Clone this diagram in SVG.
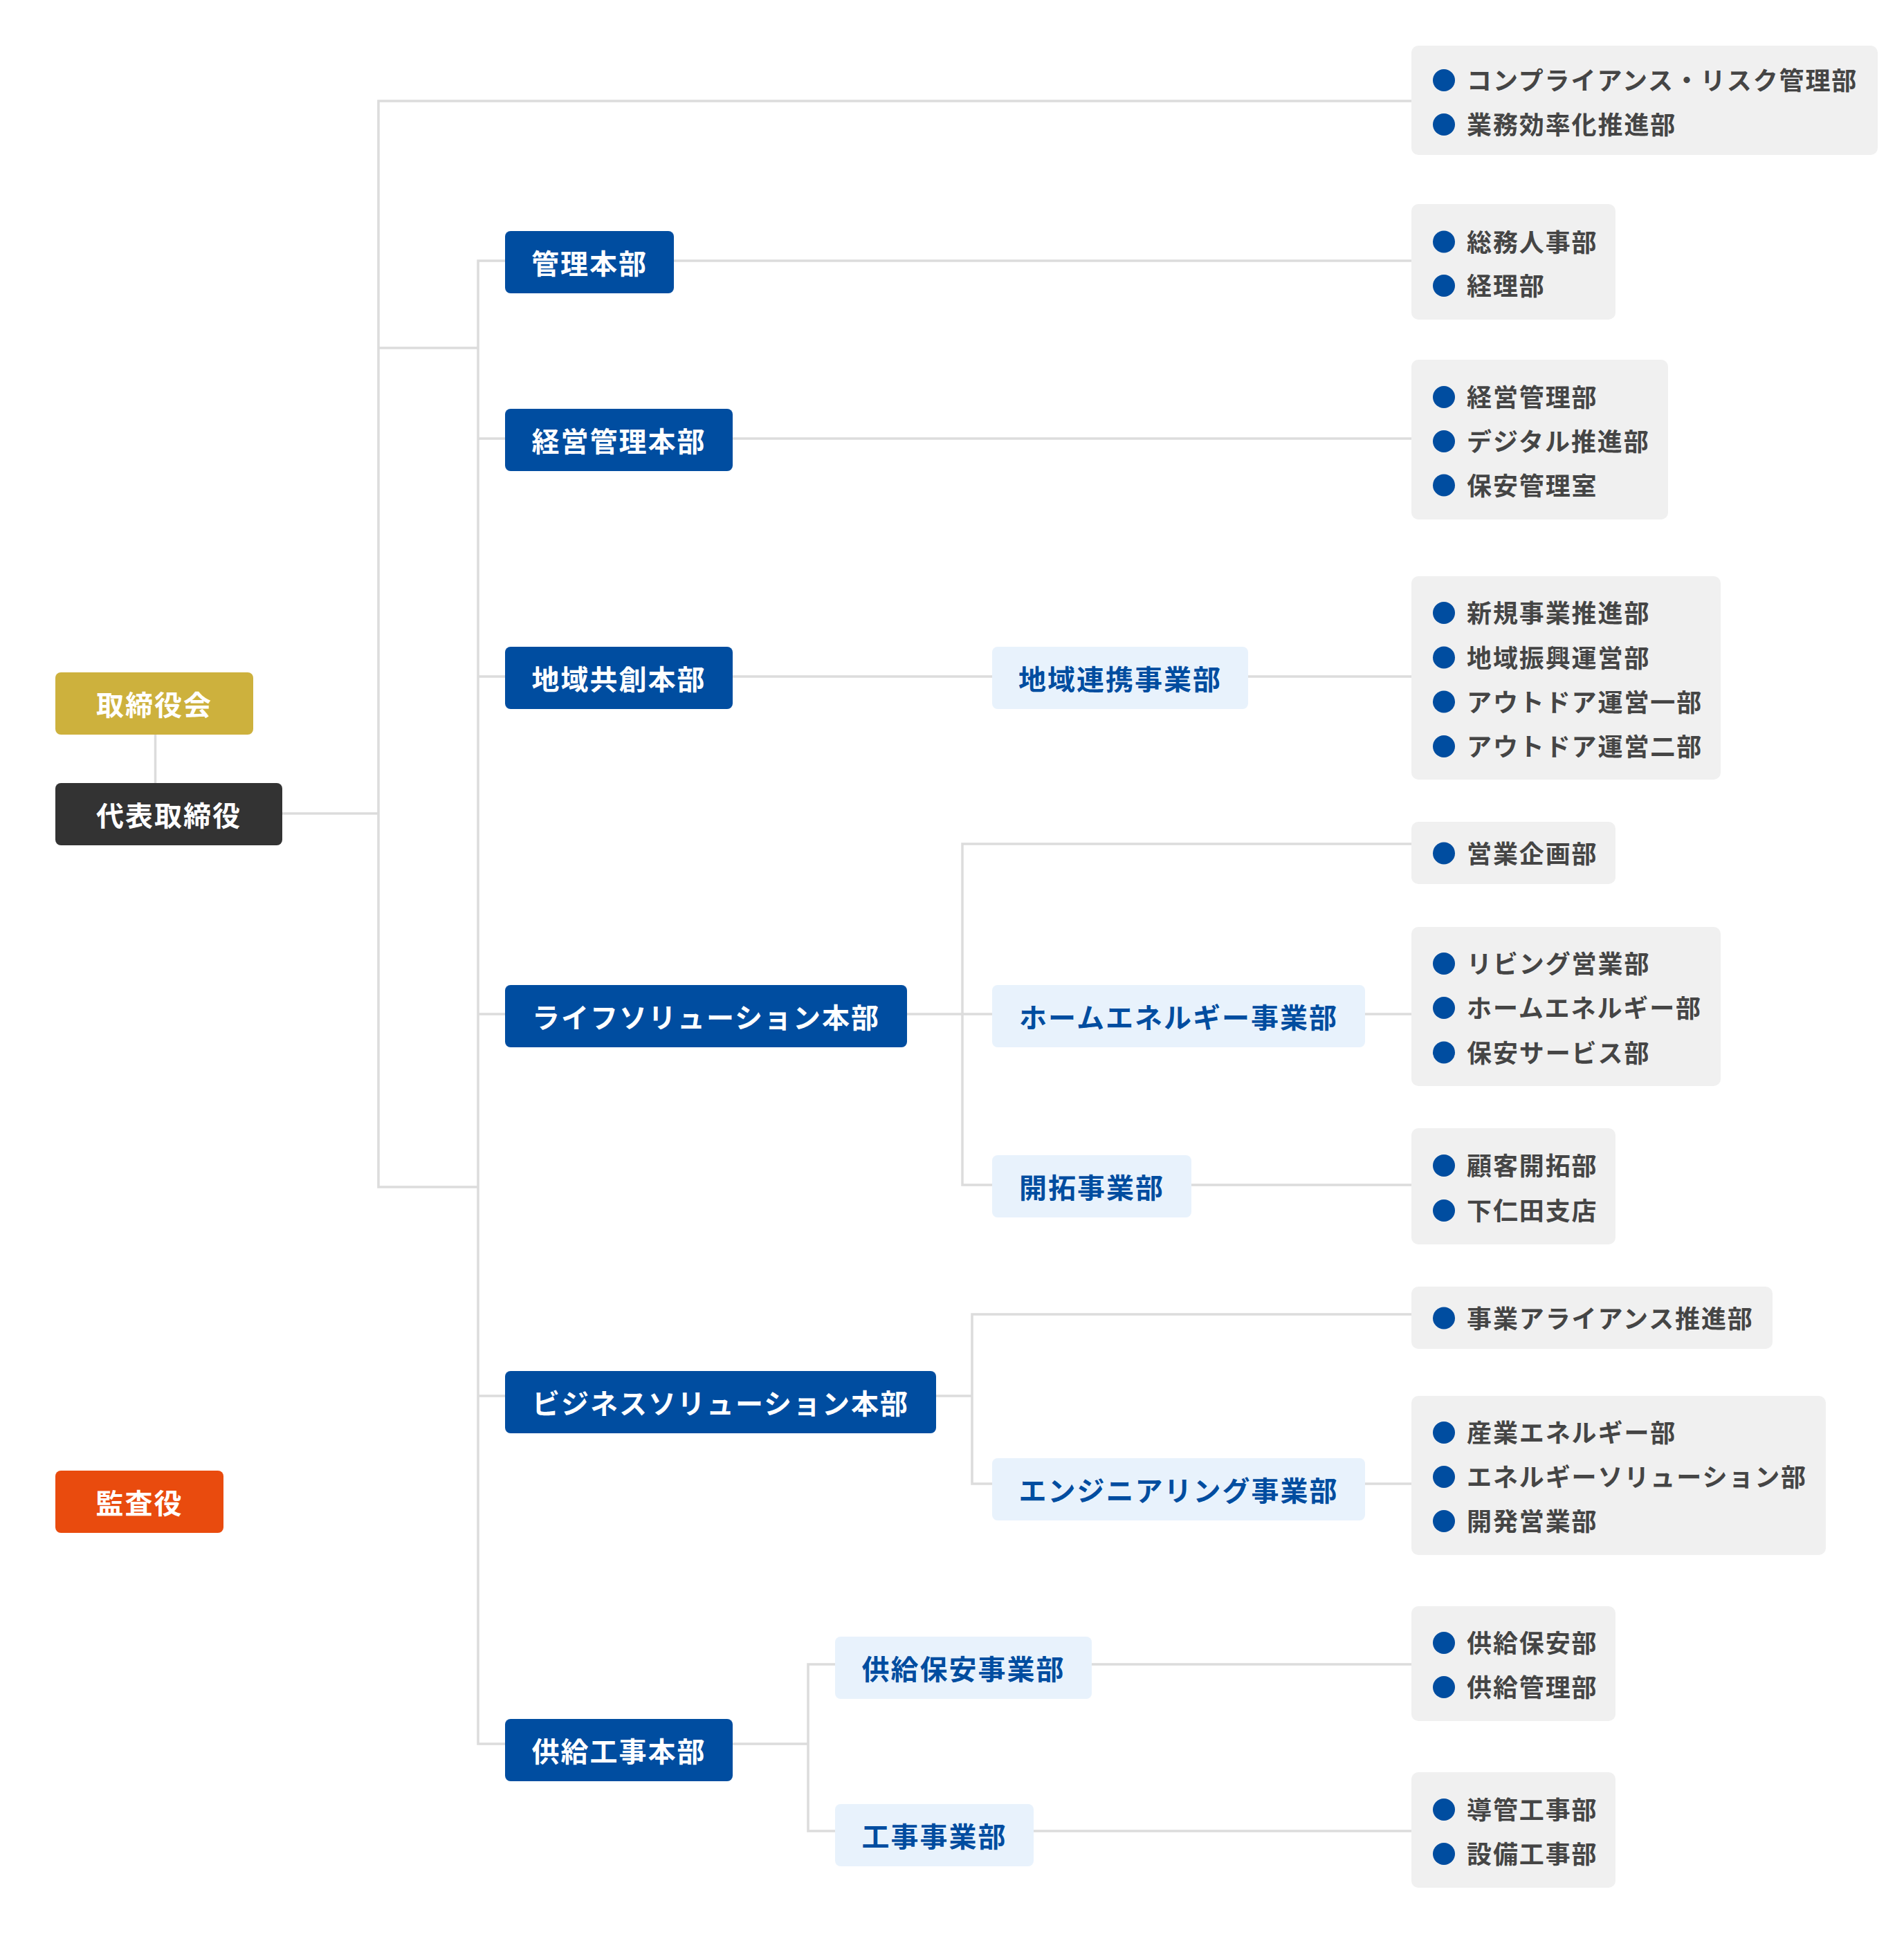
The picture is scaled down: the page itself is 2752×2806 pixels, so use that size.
<svg xmlns="http://www.w3.org/2000/svg" width="2752" height="2806" viewBox="0 0 2752 2806">
<style>
.conn path{fill:none;stroke:#dcdcdc;stroke-width:3.5}
text{font-family:"Noto Sans CJK JP","Noto Sans",sans-serif;font-weight:700}
.nt{font-size:40px;letter-spacing:2px;text-anchor:middle}
.w{fill:#ffffff}
.bt{fill:#004DA0}
.it{font-size:36px;letter-spacing:1.9px;fill:#454545}
.gold{fill:#CDB13D}.dark{fill:#333333}.red{fill:#E94B0E}
.blue{fill:#004DA0}.lb{fill:#E8F2FC}.gb{fill:#F0F0F0}
.dot{fill:#004DA0}
</style>
<rect width="2752" height="2806" fill="#ffffff"/>
<g class="conn" id="connectors">
<path d="M224.5 1061V1132"/>
<path d="M408 1176H547"/>
<path d="M2040 146H547V1716H691"/>
<path d="M547 503H691"/>
<path d="M730 377H691V2521H730"/>
<path d="M691 634H730M691 978H730M691 1466H730M691 2018H730"/>
<path d="M974 377H2040"/>
<path d="M1059 634H2040"/>
<path d="M1059 978H1434M1804 978H2040"/>
<path d="M1311 1466H1434M1972 1466H2040"/>
<path d="M2040 1220H1391V1713H1434M1721 1713H2040"/>
<path d="M1353 2018H1405M2040 1900H1405V2145H1434M1973 2145H2040"/>
<path d="M1059 2521H1168M1207 2406H1168V2647H1207M1578 2406H2040M1494 2647H2040"/>
</g>

<g id="torishimariyakukai"><rect class="gold" x="80" y="972" width="286" height="90" rx="8"/><text class="nt w" x="223" y="1034">取締役会</text></g>
<g id="daihyo"><rect class="dark" x="80" y="1132" width="328" height="90" rx="8"/><text class="nt w" x="244" y="1194">代表取締役</text></g>
<g id="kansayaku"><rect class="red" x="80" y="2126" width="243" height="90" rx="8"/><text class="nt w" x="201.5" y="2188">監査役</text></g>

<g id="kanri-honbu"><rect class="blue" x="730" y="334" width="244" height="90" rx="8"/><text class="nt w" x="852" y="396">管理本部</text></g>
<g id="keiei-honbu"><rect class="blue" x="730" y="591" width="329" height="90" rx="8"/><text class="nt w" x="894.5" y="653">経営管理本部</text></g>
<g id="chiiki-honbu"><rect class="blue" x="730" y="935" width="329" height="90" rx="8"/><text class="nt w" x="894.5" y="997">地域共創本部</text></g>
<g id="life-honbu"><rect class="blue" x="730" y="1424" width="581" height="90" rx="8"/><text class="nt w" x="1020.5" y="1486">ライフソリューション本部</text></g>
<g id="business-honbu"><rect class="blue" x="730" y="1982" width="623" height="90" rx="8"/><text class="nt w" x="1041.5" y="2044">ビジネスソリューション本部</text></g>
<g id="kyokyu-honbu"><rect class="blue" x="730" y="2485" width="329" height="90" rx="8"/><text class="nt w" x="894.5" y="2547">供給工事本部</text></g>

<g id="chiiki-renkei"><rect class="lb" x="1434" y="935" width="370" height="90" rx="8"/><text class="nt bt" x="1619" y="997">地域連携事業部</text></g>
<g id="home-energy"><rect class="lb" x="1434" y="1424" width="539" height="90" rx="8"/><text class="nt bt" x="1703.5" y="1486">ホームエネルギー事業部</text></g>
<g id="kaitaku"><rect class="lb" x="1434" y="1670" width="288" height="90" rx="8"/><text class="nt bt" x="1578" y="1732">開拓事業部</text></g>
<g id="engineering"><rect class="lb" x="1434" y="2108" width="539" height="90" rx="8"/><text class="nt bt" x="1703.5" y="2170">エンジニアリング事業部</text></g>
<g id="kyokyu-hoan"><rect class="lb" x="1207" y="2366" width="371" height="90" rx="8"/><text class="nt bt" x="1392.5" y="2428">供給保安事業部</text></g>
<g id="koji"><rect class="lb" x="1207" y="2608" width="287" height="90" rx="8"/><text class="nt bt" x="1350.5" y="2670">工事事業部</text></g>

<g id="list1"><rect class="gb" x="2040" y="66" width="674" height="158" rx="10"/>
<circle class="dot" cx="2087" cy="116" r="16"/><text class="it" x="2120" y="130">コンプライアンス・リスク管理部</text>
<circle class="dot" cx="2087" cy="180" r="16"/><text class="it" x="2120" y="194">業務効率化推進部</text></g>
<g id="list2"><rect class="gb" x="2040" y="295" width="295" height="167" rx="10"/>
<circle class="dot" cx="2087" cy="349.5" r="16"/><text class="it" x="2120" y="363.5">総務人事部</text>
<circle class="dot" cx="2087" cy="413" r="16"/><text class="it" x="2120" y="427">経理部</text></g>
<g id="list3"><rect class="gb" x="2040" y="520" width="371" height="231" rx="10"/>
<circle class="dot" cx="2087" cy="574" r="16"/><text class="it" x="2120" y="588">経営管理部</text>
<circle class="dot" cx="2087" cy="638" r="16"/><text class="it" x="2120" y="652">デジタル推進部</text>
<circle class="dot" cx="2087" cy="701.5" r="16"/><text class="it" x="2120" y="715.5">保安管理室</text></g>
<g id="list4"><rect class="gb" x="2040" y="833" width="447" height="294" rx="10"/>
<circle class="dot" cx="2087" cy="886" r="16"/><text class="it" x="2120" y="900">新規事業推進部</text>
<circle class="dot" cx="2087" cy="950.5" r="16"/><text class="it" x="2120" y="964.5">地域振興運営部</text>
<circle class="dot" cx="2087" cy="1014.5" r="16"/><text class="it" x="2120" y="1028.5">アウトドア運営一部</text>
<circle class="dot" cx="2087" cy="1079" r="16"/><text class="it" x="2120" y="1093">アウトドア運営二部</text></g>
<g id="list5"><rect class="gb" x="2040" y="1188" width="295" height="90" rx="10"/>
<circle class="dot" cx="2087" cy="1233.5" r="16"/><text class="it" x="2120" y="1247.5">営業企画部</text></g>
<g id="list6"><rect class="gb" x="2040" y="1340" width="447" height="230" rx="10"/>
<circle class="dot" cx="2087" cy="1393" r="16"/><text class="it" x="2120" y="1407">リビング営業部</text>
<circle class="dot" cx="2087" cy="1457" r="16"/><text class="it" x="2120" y="1471">ホームエネルギー部</text>
<circle class="dot" cx="2087" cy="1521.5" r="16"/><text class="it" x="2120" y="1535.5">保安サービス部</text></g>
<g id="list7"><rect class="gb" x="2040" y="1631" width="295" height="168" rx="10"/>
<circle class="dot" cx="2087" cy="1685" r="16"/><text class="it" x="2120" y="1699">顧客開拓部</text>
<circle class="dot" cx="2087" cy="1750" r="16"/><text class="it" x="2120" y="1764">下仁田支店</text></g>
<g id="list8"><rect class="gb" x="2040" y="1860" width="522" height="90" rx="10"/>
<circle class="dot" cx="2087" cy="1905.5" r="16"/><text class="it" x="2120" y="1919.5">事業アライアンス推進部</text></g>
<g id="list9"><rect class="gb" x="2040" y="2018" width="599" height="230" rx="10"/>
<circle class="dot" cx="2087" cy="2071" r="16"/><text class="it" x="2120" y="2085">産業エネルギー部</text>
<circle class="dot" cx="2087" cy="2135" r="16"/><text class="it" x="2120" y="2149">エネルギーソリューション部</text>
<circle class="dot" cx="2087" cy="2199" r="16"/><text class="it" x="2120" y="2213">開発営業部</text></g>
<g id="list10"><rect class="gb" x="2040" y="2322" width="295" height="166" rx="10"/>
<circle class="dot" cx="2087" cy="2375" r="16"/><text class="it" x="2120" y="2389">供給保安部</text>
<circle class="dot" cx="2087" cy="2439" r="16"/><text class="it" x="2120" y="2453">供給管理部</text></g>
<g id="list11"><rect class="gb" x="2040" y="2562" width="295" height="167" rx="10"/>
<circle class="dot" cx="2087" cy="2616" r="16"/><text class="it" x="2120" y="2630">導管工事部</text>
<circle class="dot" cx="2087" cy="2680" r="16"/><text class="it" x="2120" y="2694">設備工事部</text></g>
</svg>
